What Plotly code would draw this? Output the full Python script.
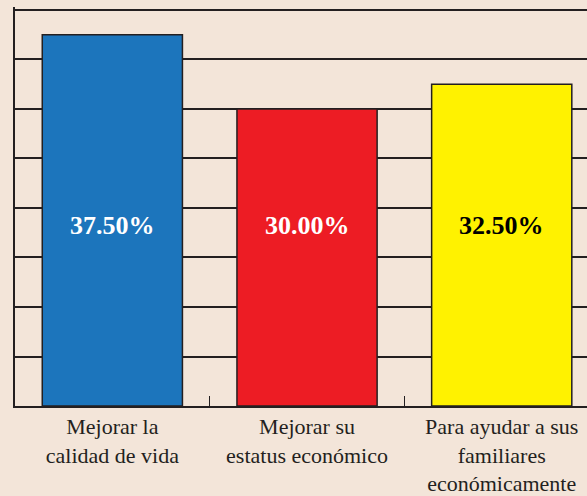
import plotly.graph_objects as go

categories = ["Mejorar la<br>calidad de vida", "Mejorar su<br>estatus económico",
              "Para ayudar a sus<br>familiares<br>económicamente"]
values = [37.5, 30.0, 32.5]
value_labels = ["37.50%", "30.00%", "32.50%"]
bar_colors = ["#1c75bc", "#ed1c24", "#fff200"]
label_colors = ["white", "white", "black"]
label_y = 18.2

bg = "#f3e5d9"
line_col = "#231f20"

fig = go.Figure()
fig.add_trace(go.Bar(
    x=categories, y=values, width=0.72,
    marker=dict(color=bar_colors, line=dict(color=line_col, width=1.5)),
    hoverinfo="skip",
))
for cat, lbl, col in zip(categories, value_labels, label_colors):
    fig.add_annotation(x=cat, y=label_y, text="<b>" + lbl + "</b>", showarrow=False,
                       font=dict(family="Liberation Serif", size=26, color=col))

fig.update_layout(
    width=587, height=496,
    margin=dict(l=15, r=0, t=7, b=86),
    paper_bgcolor=bg, plot_bgcolor=bg,
    showlegend=False,
    font=dict(family="Liberation Serif", color="#231f20"),
)
fig.update_xaxes(
    type="category",
    range=[-0.5, 2.438], showgrid=False, showline=True, linecolor=line_col, linewidth=1.5,
    ticks="inside", tickson="boundaries", ticklen=10, tickcolor=line_col, tickwidth=1.2,
    tickfont=dict(size=22, family="Liberation Serif", color="#231f20"),
)
fig.update_yaxes(
    range=[0, 40.3], dtick=5, showticklabels=False, showgrid=True, gridcolor=line_col,
    gridwidth=1.5, zeroline=False, showline=True, linecolor=line_col, linewidth=1.5,
    ticks="",
)
fig.write_html("out.html", config={"displayModeBar": False},
               post_script="document.body.style.margin='0';document.body.style.overflow='hidden';")
